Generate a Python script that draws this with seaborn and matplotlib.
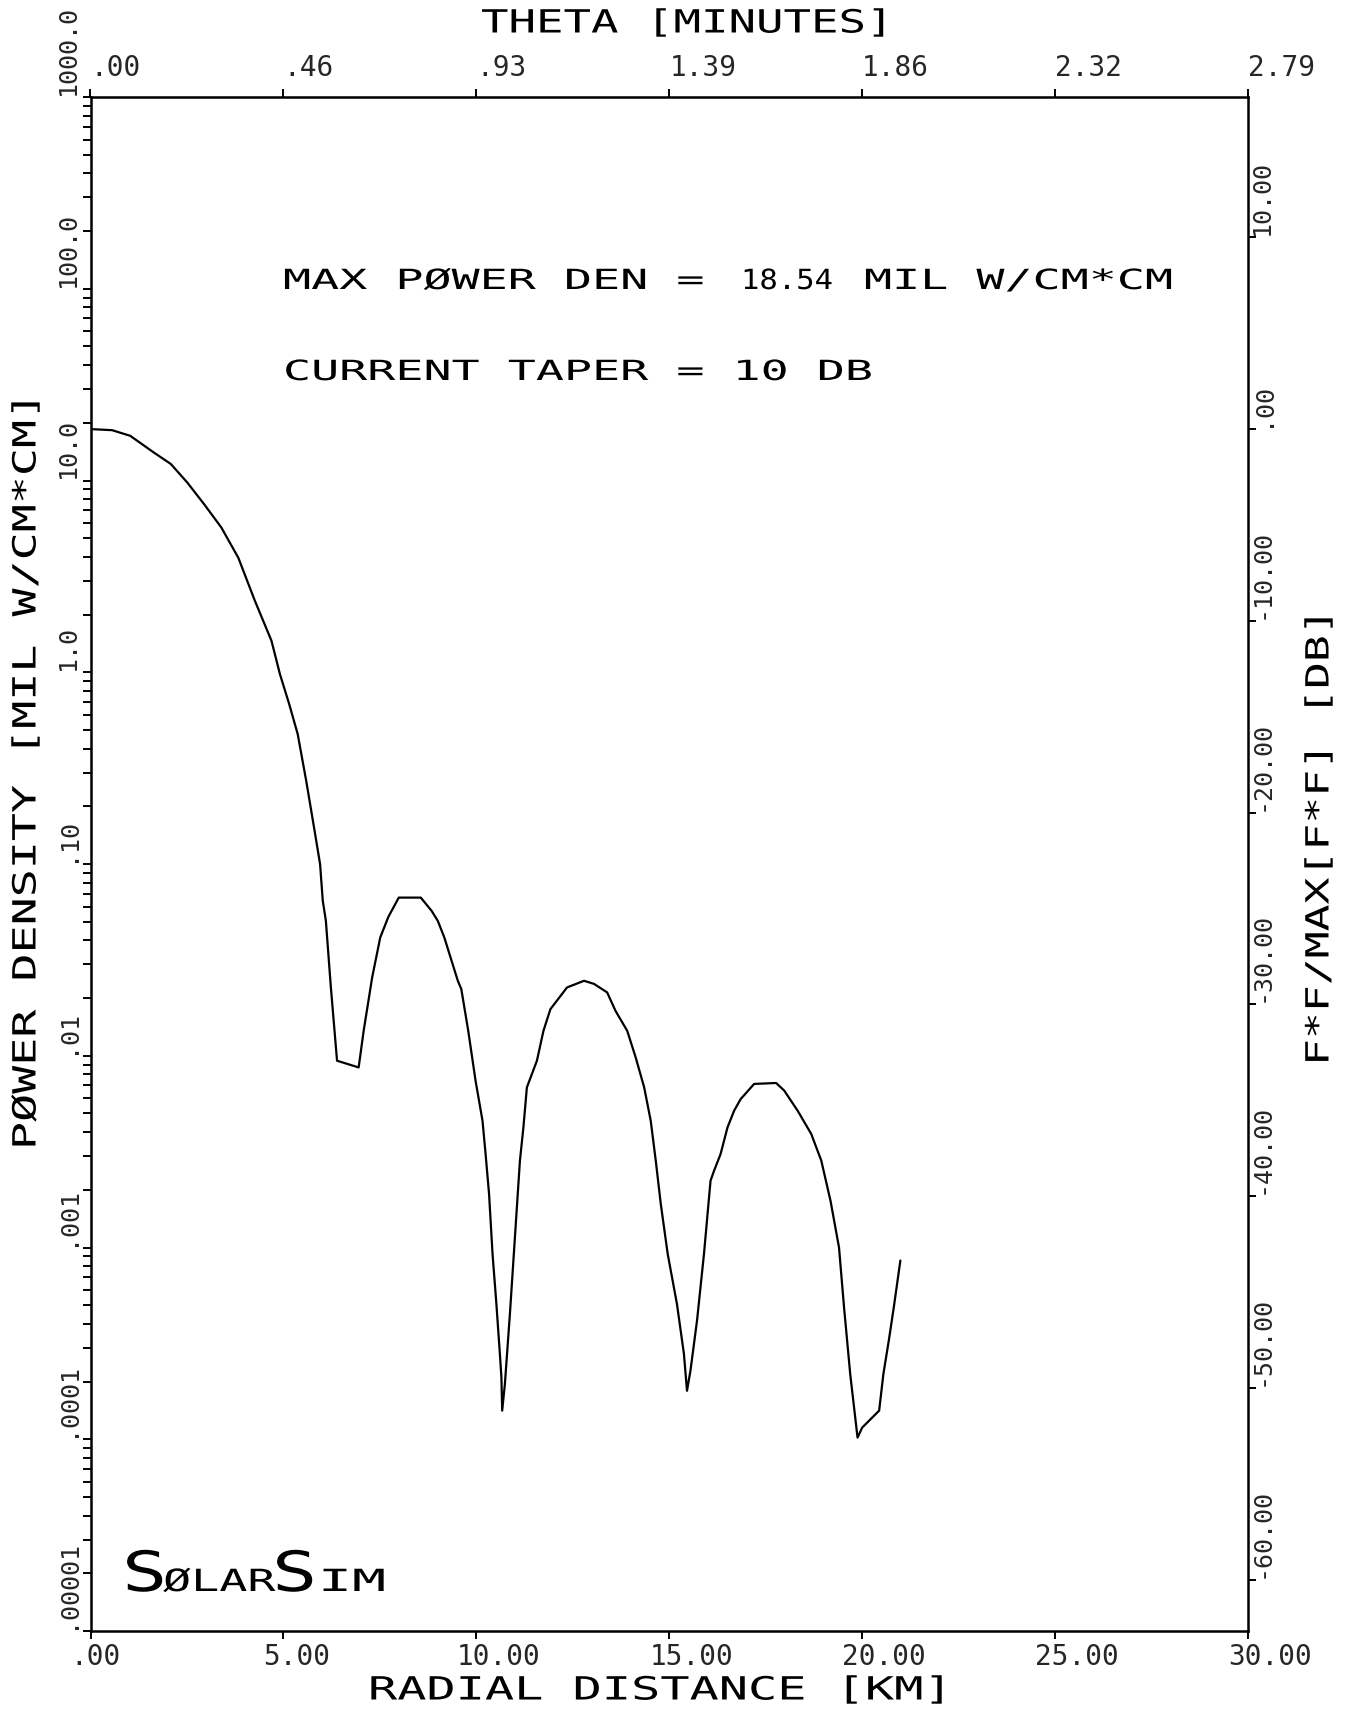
import numpy as np
import pandas as pd
import matplotlib
matplotlib.use("Agg")
import matplotlib.pyplot as plt
import seaborn as sns
from matplotlib.patheffects import AbstractPathEffect
from matplotlib.transforms import Affine2D, ScaledTranslation
from matplotlib.ticker import LogLocator, NullFormatter, FixedLocator, NullLocator

# ---------------------------------------------------------------- data
radial_km = [0.00, 0.56, 1.03, 1.64, 2.08, 2.51, 2.95, 3.39, 3.83, 4.26,
             4.69, 4.91, 5.15, 5.37, 5.59, 5.78, 5.95, 6.02, 6.10, 6.23,
             6.39, 6.95, 7.08, 7.30, 7.51, 7.72, 7.99, 8.56, 8.84, 9.00,
             9.17, 9.52, 9.61, 9.79, 9.98, 10.16, 10.24, 10.33, 10.42, 10.52,
             10.61, 10.65, 10.67, 10.74, 10.87, 11.00, 11.13, 11.22, 11.31, 11.44,
             11.57, 11.74, 11.92, 12.35, 12.79, 13.05, 13.39, 13.61, 13.91, 14.13,
             14.35, 14.52, 14.65, 14.78, 14.96, 15.20, 15.38, 15.46, 15.55, 15.72,
             15.90, 16.07, 16.16, 16.33, 16.51, 16.68, 16.85, 17.20, 17.77, 17.98,
             18.33, 18.68, 18.94, 19.18, 19.40, 19.53, 19.69, 19.88, 20.00, 20.44,
             20.55, 20.69, 20.82, 20.99]

power_density = [18.54, 18.3, 17.1, 14.0, 12.2, 9.75, 7.5, 5.69, 3.96, 2.36,
                 1.46, 0.977, 0.682, 0.476, 0.272, 0.161, 0.100, 0.0643, 0.0506, 0.0227,
                 0.00942, 0.00869, 0.0135, 0.0256, 0.0414, 0.053, 0.0668, 0.0668, 0.057, 0.0506,
                 0.0414, 0.0246, 0.0223, 0.0135, 0.00741, 0.00458, 0.00307, 0.00190, 0.000925, 0.000507,
                 0.000279, 0.000210, 0.000141, 0.000194, 0.000450, 0.00113, 0.00284, 0.00423, 0.00684, 0.00802,
                 0.00942, 0.0135, 0.0175, 0.0227, 0.0246, 0.0237, 0.0214, 0.0171, 0.0135, 0.0098,
                 0.00684, 0.00458, 0.00284, 0.00169, 0.000925, 0.000507, 0.000279, 0.000179, 0.000228, 0.000416,
                 0.000925, 0.00223, 0.00251, 0.00307, 0.00423, 0.00516, 0.00594, 0.00713, 0.00721, 0.00658,
                 0.00516, 0.00391, 0.00284, 0.00175, 0.00100, 0.000488, 0.000219, 0.000102, 0.000115, 0.000141,
                 0.000219, 0.000327, 0.000488, 0.000855]

max_power_den = 18.54      # mil W/cm*cm
current_taper_db = 10

range_ticks = [0, 5, 10, 15, 20, 25, 30]
range_labels = [".00", "5.00", "10.00", "15.00", "20.00", "25.00", "30.00"]

theta_ticks = [0.0, 0.465, 0.93, 1.395, 1.86, 2.325, 2.79]
theta_labels = [".00", ".46", ".93", "1.39", "1.86", "2.32", "2.79"]

power_ticks = [1e-5, 1e-4, 1e-3, 1e-2, 1e-1, 1e0, 1e1, 1e2, 1e3]
power_labels = [".00001", ".0001", ".001", ".01", ".10", "1.0", "10.0", "100.0", "1000.0"]

db_ticks = [10, 0, -10, -20, -30, -40, -50, -60]
db_labels = ["10.00", ".00", "-10.00", "-20.00", "-30.00", "-40.00", "-50.00", "-60.00"]

# ---------------------------------------------------------------- style
sns.set_theme(style="white")
MONO = ["DejaVu Sans Mono", "DejaVu Sans"]
plt.rcParams["font.family"] = MONO
plt.rcParams["axes.linewidth"] = 1.8

W, H, DPI = 1351, 1709, 100
fig = plt.figure(figsize=(W / DPI, H / DPI), dpi=DPI, facecolor="white")


class Widen(AbstractPathEffect):
    """Stretch glyphs along the text direction (wide plotter lettering)."""

    def __init__(self, sx):
        super().__init__()
        self._sx = sx

    def draw_path(self, renderer, gc, tpath, affine, rgbFace=None):
        renderer.draw_path(gc, tpath, Affine2D().scale(self._sx, 1.0) + affine, rgbFace)


def fig_text(px, py, s, size, sx=1.0, rotation=0, va="center"):
    t = fig.text(px / W, 1 - py / H, s, fontsize=size, family=MONO, color="black",
                 ha="left", va=va, rotation=rotation, rotation_mode="anchor")
    if sx != 1.0:
        t.set_path_effects([Widen(sx)])
    return t


def offset(dx_px, dy_px):
    return ScaledTranslation(dx_px / DPI, dy_px / DPI, fig.dpi_scale_trans)


# ---------------------------------------------------------------- axes
left_px, right_px, top_px, bottom_px = 90.5, 1248.0, 97.0, 1631.0
ax = fig.add_axes([left_px / W, 1 - bottom_px / H,
                   (right_px - left_px) / W, (bottom_px - top_px) / H])

df = pd.DataFrame({"radial_km": radial_km, "power": power_density})
sns.lineplot(data=df, x="radial_km", y="power", ax=ax, color="black",
             linewidth=1.6, estimator=None, sort=False)

ax.set_yscale("log")
ax.set_xlim(0, 30)
ax.set_ylim(1e-5, 1e3)
ax.set_xlabel("")
ax.set_ylabel("")
for sp in ax.spines.values():
    sp.set_color("black")
    sp.set_linewidth(1.8)

tick_len = 5.8
ax.xaxis.set_major_locator(FixedLocator(range_ticks))
ax.xaxis.set_minor_locator(NullLocator())
ax.yaxis.set_major_locator(FixedLocator(power_ticks))
ax.yaxis.set_minor_locator(LogLocator(base=10, subs=np.arange(2, 10), numticks=50))
ax.yaxis.set_minor_formatter(NullFormatter())
ax.tick_params(axis="both", which="both", direction="out", color="black",
               length=tick_len, width=1.4, labelbottom=False, labelleft=False)

# right axis: relative level in dB
ax_db = ax.twinx()
ax_db.set_ylim(10 * np.log10(1e-5 / max_power_den), 10 * np.log10(1e3 / max_power_den))
ax_db.yaxis.set_major_locator(FixedLocator(db_ticks))
ax_db.tick_params(axis="y", direction="out", length=tick_len, width=1.4,
                  color="black", labelright=False)
for sp in ax_db.spines.values():
    sp.set_visible(False)

# top axis: angle in minutes
ax_top = ax.twiny()
ax_top.set_xlim(0, 2.79)
ax_top.xaxis.set_major_locator(FixedLocator(theta_ticks))
ax_top.xaxis.set_minor_locator(NullLocator())
ax_top.tick_params(axis="x", direction="out", length=tick_len, width=1.4,
                   color="black", labeltop=False)
ax_top.tick_params(axis="y", left=False, right=False, labelleft=False, labelright=False)
for sp in ax_top.spines.values():
    sp.set_visible(False)

# ---------------------------------------------------------------- tick labels
TICK_FS = 20
SIDE_FS = 18
for v, s in zip(range_ticks, range_labels):
    ax.text(v, 0, s, transform=ax.get_xaxis_transform() + offset(-20, -26),
            fontsize=TICK_FS, family=MONO, ha="left", va="center")

for v, s in zip(theta_ticks, theta_labels):
    ax_top.text(v, 1, s, transform=ax_top.get_xaxis_transform() + offset(0, 29),
                fontsize=TICK_FS, family=MONO, ha="left", va="center")

for v, s in zip(power_ticks, power_labels):
    ax.text(0, v, s, transform=ax.get_yaxis_transform() + offset(-23, 2),
            fontsize=SIDE_FS, family=MONO, rotation=90, rotation_mode="anchor",
            ha="left", va="center")

for v, s in zip(db_ticks, db_labels):
    ax_db.text(1, v, s, transform=ax_db.get_yaxis_transform() + offset(14, 2),
               fontsize=SIDE_FS, family=MONO, rotation=90, rotation_mode="anchor",
               ha="left", va="center")

# ---------------------------------------------------------------- axis titles
fig_text(481, 24, "THETA [MINUTES]", 23, sx=1.43)
fig_text(368, 1691, "RADIAL DISTANCE [KM]", 23, sx=1.52)
fig_text(27, 1150, "PØWER DENSITY [MIL W/CM*CM]", 23, sx=1.46, rotation=90)
fig_text(1320, 1066, "F*F/MAX[F*F] [DB]", 23, sx=1.40, rotation=90)

# ---------------------------------------------------------------- annotations
ANN_FS = 20
fig_text(283, 281, "MAX PØWER DEN =", ANN_FS, sx=1.68)
fig_text(741, 281, f"{max_power_den:.2f}", ANN_FS, sx=1.1)
fig_text(864, 281, "MIL W/CM*CM", ANN_FS, sx=1.68)
fig_text(283, 372, f"CURRENT TAPER = {current_taper_db} DB", ANN_FS, sx=1.68)

# program logo
fig_text(122, 1591, "S", 40, sx=1.35, va="baseline")
fig_text(163, 1591, "ØLAR", 22, sx=1.53, va="baseline")
fig_text(272, 1591, "S", 40, sx=1.35, va="baseline")
fig_text(318, 1591, "IM", 22, sx=1.85, va="baseline")

fig.savefig("out.png", dpi=DPI, facecolor="white")
